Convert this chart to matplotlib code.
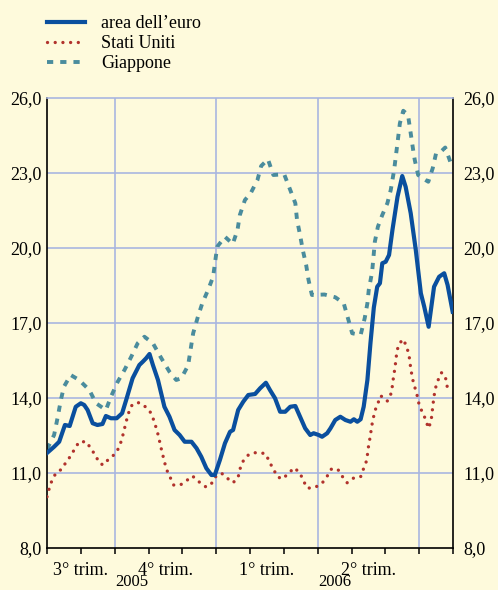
import matplotlib
matplotlib.use("Agg")
import matplotlib.pyplot as plt
import numpy as np

# x in months since 1 August 2005
euro_x = [0.00, 0.21, 0.36, 0.53, 0.67, 0.85, 1.00, 1.10, 1.20, 1.35, 1.49, 1.64, 1.74, 1.89,
          2.06, 2.22, 2.34, 2.53, 2.73, 2.83, 2.93, 3.03, 3.13, 3.28, 3.47, 3.62, 3.77, 3.92,
          4.07, 4.27, 4.42, 4.56, 4.71, 4.86, 4.96, 5.11, 5.26, 5.41, 5.50, 5.65, 5.80, 5.95,
          6.15, 6.30, 6.47, 6.59, 6.74, 6.89, 7.04, 7.19, 7.34, 7.48, 7.63, 7.78, 7.88, 8.03,
          8.13, 8.28, 8.38, 8.52, 8.67, 8.82, 8.97, 9.07, 9.17, 9.27, 9.36, 9.47, 9.56, 9.66,
          9.76, 9.84, 9.91, 10.01, 10.11, 10.21, 10.36, 10.50, 10.60, 10.75, 10.90, 11.05,
          11.15, 11.28, 11.44, 11.59, 11.74, 11.84, 11.99]
euro_y = [11.80, 12.05, 12.25, 12.92, 12.88, 13.65, 13.79, 13.72, 13.52, 12.99, 12.92, 12.96, 13.28, 13.19,
          13.19, 13.39, 13.92, 14.79, 15.32, 15.45, 15.59, 15.76, 15.32, 14.72, 13.65, 13.25, 12.72, 12.52,
          12.25, 12.25, 11.99, 11.65, 11.19, 10.92, 10.92, 11.52, 12.19, 12.65, 12.72, 13.52, 13.85, 14.12,
          14.16, 14.39, 14.61, 14.32, 13.99, 13.45, 13.45, 13.65, 13.68, 13.25, 12.79, 12.52, 12.59, 12.52,
          12.45, 12.59, 12.79, 13.12, 13.25, 13.12, 13.05, 13.15, 13.05, 13.15, 13.65, 14.72, 16.19, 17.62,
          18.45, 18.59, 19.39, 19.45, 19.72, 20.72, 22.05, 22.88, 22.45, 21.39, 19.92, 18.19,
          17.65, 16.85, 18.45, 18.85, 18.99, 18.52, 17.45]

usa_x = [0.00, 0.06, 0.14, 0.26, 0.44, 0.57, 0.70, 0.80, 0.95, 1.17, 1.30, 1.43, 1.54, 1.66, 1.82,
         2.02, 2.14, 2.22, 2.34, 2.40, 2.49, 2.61, 2.73, 2.93, 3.08, 3.16, 3.23, 3.30, 3.35, 3.41,
         3.47, 3.54, 3.64, 3.74, 3.94, 4.12, 4.30, 4.49, 4.69, 4.84, 4.96, 5.16, 5.33, 5.50, 5.65,
         5.70, 5.80, 5.95, 6.10, 6.32, 6.47, 6.57, 6.69, 6.81, 6.96, 7.14, 7.31, 7.48, 7.58, 7.70,
         7.93, 8.13, 8.28, 8.40, 8.59, 8.72, 8.87, 9.05, 9.27, 9.35, 9.44, 9.48, 9.51, 9.56, 9.59,
         9.64, 9.69, 9.78, 9.84, 9.94, 10.06, 10.16, 10.21, 10.24, 10.28, 10.31, 10.34, 10.40,
         10.53, 10.63, 10.70, 10.73, 10.77, 10.82, 10.88, 10.95, 11.00, 11.10, 11.20, 11.27,
         11.35, 11.38, 11.41, 11.44, 11.49, 11.56, 11.66, 11.77, 11.81, 11.87]
usa_y = [10.05, 10.35, 10.68, 10.99, 11.16, 11.45, 11.68, 11.92, 12.25, 12.25, 11.96, 11.72, 11.41, 11.32, 11.55,
         11.77, 12.05, 12.39, 13.05, 13.36, 13.68, 13.81, 13.81, 13.63, 13.39, 13.09, 12.79, 12.45, 12.12, 11.79,
         11.45, 11.12, 10.83, 10.52, 10.52, 10.69, 10.88, 10.65, 10.45, 10.52, 10.83, 10.99, 10.79, 10.61, 10.83,
         11.15, 11.48, 11.72, 11.81, 11.81, 11.76, 11.45, 11.16, 10.85, 10.76, 10.99, 11.21, 10.99, 10.68, 10.39,
         10.43, 10.59, 10.87, 11.15, 11.16, 10.88, 10.61, 10.79, 10.85, 11.15, 11.47, 11.81, 12.15, 12.49, 12.83,
         13.16, 13.49, 13.76, 14.08, 14.05, 13.88, 14.15, 14.49, 14.83, 15.16, 15.49, 15.85, 16.16,
         16.35, 16.05, 15.72, 15.39, 15.03, 14.68, 14.39, 14.05, 13.72, 13.41, 13.12, 12.79,
         13.05, 13.39, 13.75, 14.08, 14.43, 14.72, 15.01, 14.89, 14.56, 14.23]

jap_x = [0.00, 0.21, 0.31, 0.41, 0.50, 0.70, 0.95, 1.25, 1.45, 1.74, 1.89, 2.09, 2.29, 2.49, 2.68,
         2.88, 3.13, 3.38, 3.62, 3.82, 3.97, 4.17, 4.32, 4.46, 4.59, 4.76, 4.91, 5.03, 5.26, 5.49,
         5.63, 5.70, 5.85, 6.02, 6.22, 6.33, 6.53, 6.69, 7.01, 7.17, 7.34, 7.39, 7.48, 7.56, 7.66,
         7.73, 7.83, 8.20, 8.52, 8.77, 9.02, 9.27, 9.39, 9.47, 9.51, 9.61, 9.69, 9.78, 9.91, 10.06,
         10.16, 10.26, 10.37, 10.43, 10.53, 10.67, 10.75, 10.83, 10.87, 10.97, 11.10, 11.27, 11.40,
         11.50, 11.64, 11.77, 11.92]
jap_y = [11.95, 12.52, 13.19, 13.92, 14.45, 14.92, 14.72, 14.32, 13.79, 13.52, 14.05, 14.65, 15.12, 15.65, 16.19,
         16.45, 16.19, 15.59, 15.05, 14.72, 14.79, 15.30, 16.59, 17.25, 17.79, 18.32, 18.85, 20.05, 20.45, 20.16,
         20.72, 21.32, 21.92, 22.19, 22.72, 23.28, 23.55, 22.92, 22.95, 22.39, 21.79, 21.12, 20.52, 19.92, 19.32,
         18.72, 18.12, 18.14, 18.03, 17.79, 16.59, 16.52, 17.19, 17.79, 18.32, 19.05, 20.25, 20.85, 21.32, 21.79,
         22.32, 23.12, 24.32, 24.99, 25.49, 25.32, 24.59, 23.85, 23.52, 22.92, 22.79, 22.65, 23.19,
         23.79, 23.85, 24.02, 23.45]

series_labels = ["area dell\u2019euro", "Stati Uniti", "Giappone"]
y_ticks = [8, 11, 14, 17, 20, 23, 26]
quarter_labels = ["3\u00b0 trim.", "4\u00b0 trim.", "1\u00b0 trim.", "2\u00b0 trim."]
quarter_centers = [1.0, 3.5, 6.5, 9.5]
quarter_bounds = [2, 5, 8, 11]
year_labels = ["2005", "2006"]
year_centers = [2.5, 8.5]

BG = "#FEFADC"
BLUE = "#0A4F9E"
RED = "#B1322C"
TEAL = "#4A8C9D"
GRID = "#A9B6E0"

plt.rcParams['font.family'] = ['Liberation Serif', 'DejaVu Serif']
plt.rcParams['font.size'] = 13

fig = plt.figure(figsize=(4.98, 5.90), dpi=100, facecolor=BG)
ax = fig.add_axes([47/498, 42/590, 406/498, 450/590], facecolor=BG)

ax.set_xlim(0, 12)
ax.set_ylim(8, 26)

for v in y_ticks[1:-1]:
    ax.axhline(v, color=GRID, lw=1.2, zorder=1)
for q in quarter_bounds:
    ax.axvline(q, color=GRID, lw=1.2, zorder=1)

l1, = ax.plot(euro_x, euro_y, color=BLUE, lw=3.0, solid_joinstyle='round', zorder=4,
              label=series_labels[0])
l2, = ax.plot(usa_x, usa_y, color=RED, lw=2.4, linestyle=(0, (0.01, 2.3)),
              dash_capstyle='round', zorder=3, label=series_labels[1])
l3, = ax.plot(jap_x, jap_y, color=TEAL, lw=2.8, linestyle=(0, (1.6, 1.8)),
              dash_capstyle='butt', zorder=2, label=series_labels[2])

for s in ['left', 'right', 'bottom']:
    ax.spines[s].set_color('black')
    ax.spines[s].set_linewidth(1.2)
ax.spines['top'].set_color(GRID)
ax.spines['top'].set_linewidth(1.2)

ax.set_xticks(np.arange(0, 13, 1))
ax.set_xticklabels([])
ax.tick_params(axis='x', direction='out', length=4, width=1.1, color='black')

fmt = [f"{v:.1f}".replace('.', ',') for v in y_ticks]
ax.set_yticks(y_ticks)
ax.set_yticklabels(fmt)
ax.tick_params(axis='y', left=False, right=False, length=0, pad=3.8)

ax2 = ax.twinx()
ax2.set_ylim(8, 26)
ax2.set_yticks(y_ticks)
ax2.set_yticklabels(fmt)
ax2.tick_params(axis='y', right=False, left=False, length=0, pad=7.2)
for s in ax2.spines.values():
    s.set_visible(False)

tr = ax.get_xaxis_transform()
for lab, c in zip(quarter_labels, quarter_centers):
    ax.text(c, -0.06, lab, transform=tr, ha='center', va='baseline', fontsize=13)
for lab, c in zip(year_labels, year_centers):
    ax.text(c, -0.084, lab, transform=tr, ha='center', va='baseline', fontsize=12,
            clip_on=False)

leg = fig.legend(handles=[l1, l2, l3], loc='upper left', bbox_to_anchor=(47/498, 1 - 15/590),
                 frameon=False, fontsize=13, handlelength=2.1, handletextpad=0.9,
                 labelspacing=0.17, borderaxespad=0, borderpad=0)

fig.savefig("out.png", dpi=100, facecolor=BG)
